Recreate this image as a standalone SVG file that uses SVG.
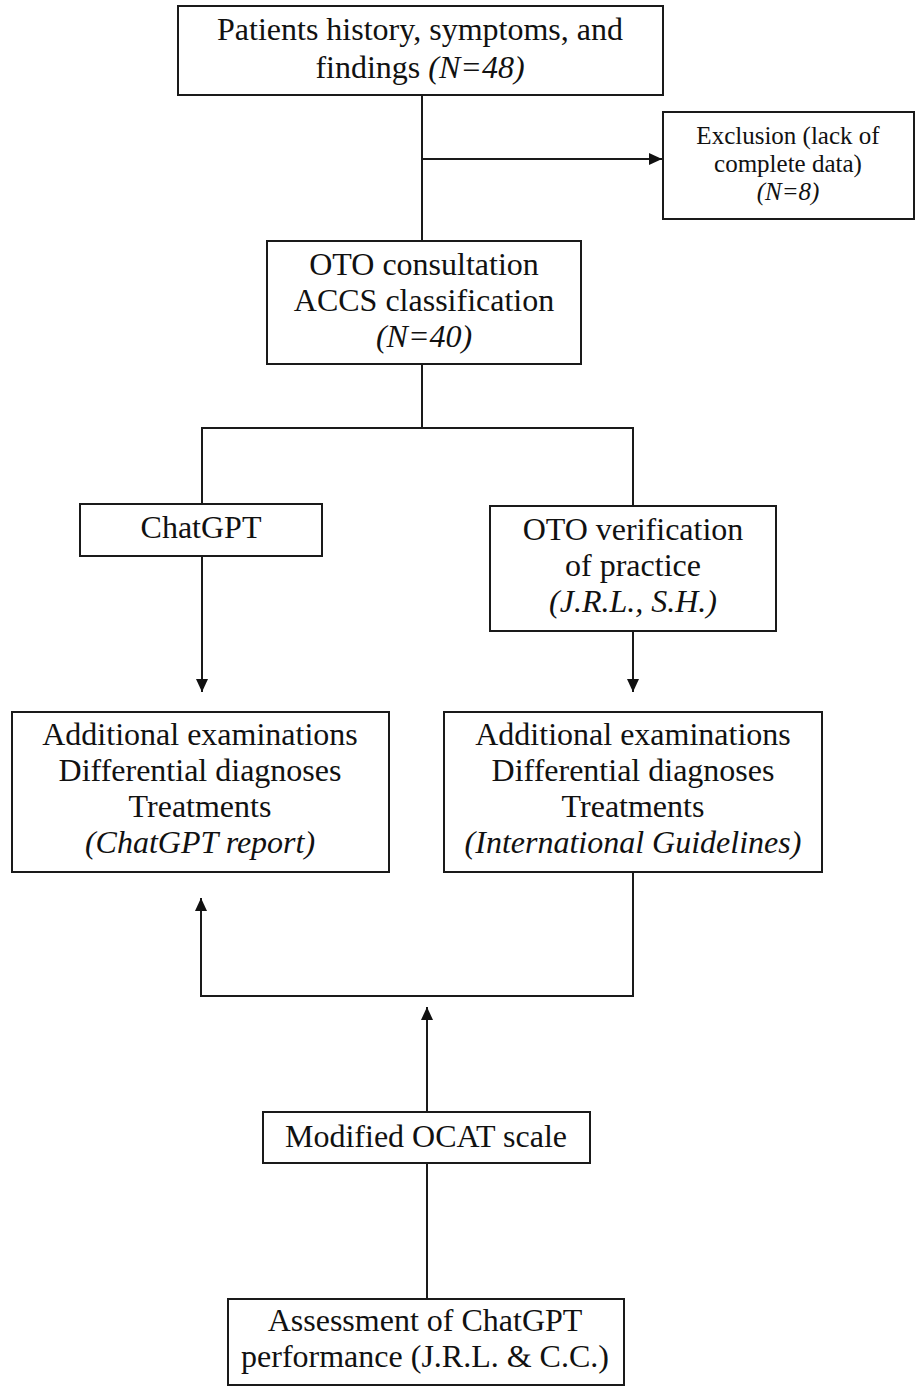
<svg xmlns="http://www.w3.org/2000/svg" width="917" height="1386" viewBox="0 0 917 1386">
<style>
.box{fill:#fff;stroke:#1a1a1a;stroke-width:2}
.t{font-family:"Liberation Serif","Times New Roman",serif;font-size:32px;fill:#111;text-anchor:middle}
.s{font-size:25px}
.i{font-style:italic}
.ln{fill:none;stroke:#1a1a1a;stroke-width:2}
</style>
<defs>
<marker id="ah" markerUnits="userSpaceOnUse" markerWidth="14" markerHeight="12" refX="13" refY="6" orient="auto">
<polygon points="0,0 13,6 0,12" fill="#111"/>
</marker>
</defs>
<rect width="917" height="1386" fill="#fff"/>
<g id="connectors">
<line class="ln" x1="422" y1="95" x2="422" y2="241"/>
<line class="ln" x1="422" y1="159" x2="662" y2="159" marker-end="url(#ah)"/>
<polyline class="ln" points="422,364 422,428"/>
<polyline class="ln" points="202,504 202,428 633,428 633,506"/>
<line class="ln" x1="202" y1="556" x2="202" y2="692" marker-end="url(#ah)"/>
<line class="ln" x1="633" y1="631" x2="633" y2="692" marker-end="url(#ah)"/>
<polyline class="ln" points="633,872 633,996 201,996 201,898" marker-end="url(#ah)"/>
<line class="ln" x1="427" y1="1112" x2="427" y2="1007" marker-end="url(#ah)"/>
<line class="ln" x1="427" y1="1163" x2="427" y2="1299"/>
</g>
<g id="n-patients">
<rect class="box" x="178" y="6" width="485" height="89"/>
<text class="t" x="420" y="40">Patients history, symptoms, and</text>
<text class="t" x="420" y="78">findings <tspan class="i">(N=48)</tspan></text>
</g>
<g id="n-exclusion">
<rect class="box" x="663" y="112" width="251" height="107"/>
<text class="t s" x="788" y="144">Exclusion (lack of</text>
<text class="t s" x="788" y="172">complete data)</text>
<text class="t s i" x="788" y="200">(N=8)</text>
</g>
<g id="n-oto">
<rect class="box" x="267" y="241" width="314" height="123"/>
<text class="t" x="424" y="275">OTO consultation</text>
<text class="t" x="424" y="311">ACCS classification</text>
<text class="t i" x="424" y="347">(N=40)</text>
</g>
<g id="n-chatgpt">
<rect class="box" x="80" y="504" width="242" height="52"/>
<text class="t" x="201" y="538">ChatGPT</text>
</g>
<g id="n-verification">
<rect class="box" x="490" y="506" width="286" height="125"/>
<text class="t" x="633" y="540">OTO verification</text>
<text class="t" x="633" y="576">of practice</text>
<text class="t i" x="633" y="612">(J.R.L., S.H.)</text>
</g>
<g id="n-chatgpt-report">
<rect class="box" x="12" y="712" width="377" height="160"/>
<text class="t" x="200" y="745">Additional examinations</text>
<text class="t" x="200" y="781">Differential diagnoses</text>
<text class="t" x="200" y="817">Treatments</text>
<text class="t i" x="200" y="853">(ChatGPT report)</text>
</g>
<g id="n-guidelines">
<rect class="box" x="444" y="712" width="378" height="160"/>
<text class="t" x="633" y="745">Additional examinations</text>
<text class="t" x="633" y="781">Differential diagnoses</text>
<text class="t" x="633" y="817">Treatments</text>
<text class="t i" x="633" y="853">(International Guidelines)</text>
</g>
<g id="n-ocat">
<rect class="box" x="263" y="1112" width="327" height="51"/>
<text class="t" x="426" y="1147">Modified OCAT scale</text>
</g>
<g id="n-assessment">
<rect class="box" x="228" y="1299" width="396" height="86"/>
<text class="t" x="425" y="1331">Assessment of ChatGPT</text>
<text class="t" x="425" y="1367">performance (J.R.L. &amp; C.C.)</text>
</g>
</svg>
